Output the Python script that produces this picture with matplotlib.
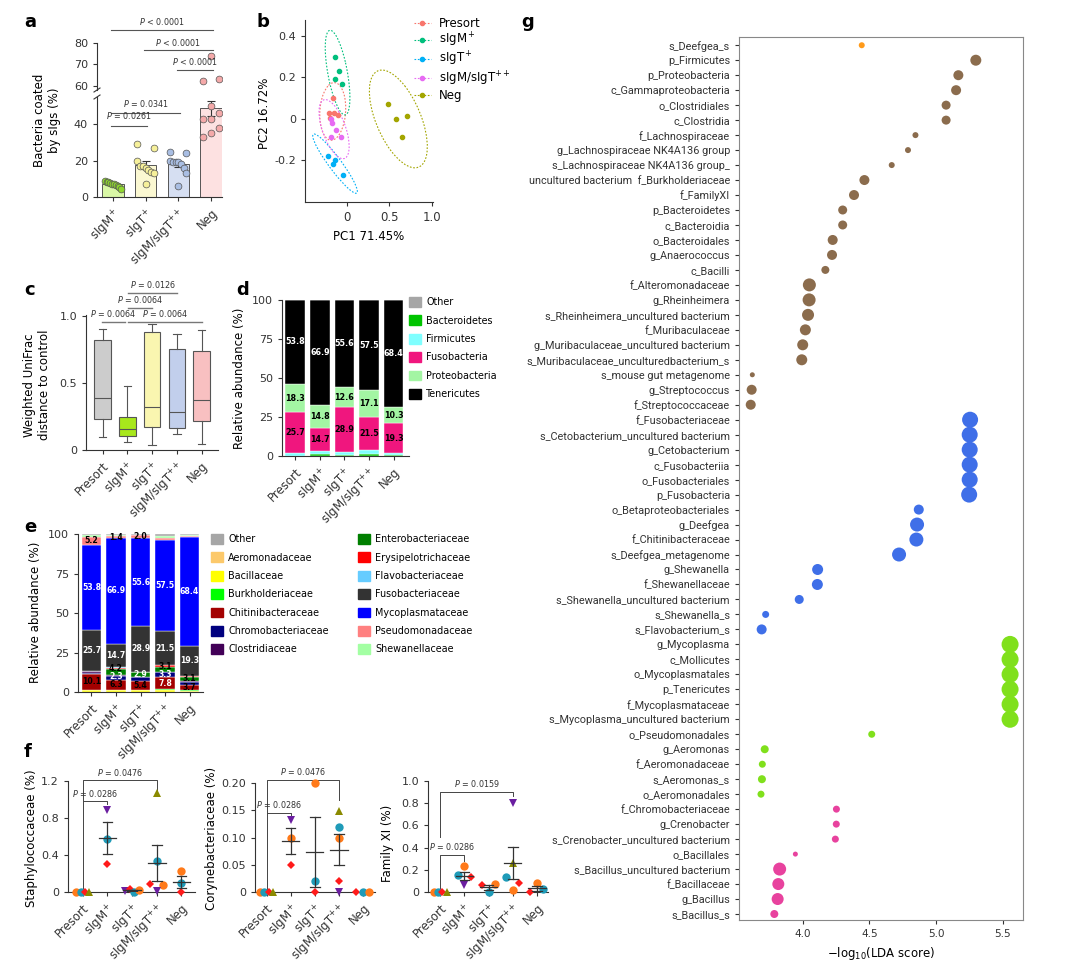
import numpy as np
import matplotlib.pyplot as plt
from matplotlib.patches import Ellipse, Patch
from matplotlib.lines import Line2D

plt.rcParams['font.family'] = ['DejaVu Sans']
plt.rcParams['mathtext.fontset'] = 'dejavusans'
plt.rcParams['axes.linewidth'] = 0.8
plt.rcParams['axes.edgecolor'] = '#333333'
plt.rcParams['xtick.major.width'] = 0.8
plt.rcParams['ytick.major.width'] = 0.8
plt.rcParams['xtick.major.size'] = 3
plt.rcParams['ytick.major.size'] = 3
plt.rcParams['xtick.labelsize'] = 8.5
plt.rcParams['ytick.labelsize'] = 8
plt.rcParams['xtick.color'] = '#333333'
plt.rcParams['ytick.color'] = '#333333'

W, H = 1080, 963

# ---------------- data ----------------
groups = ['Presort', 'sIgM$^+$', 'sIgT$^+$', 'sIgM/sIgT$^{++}$', 'Neg']

# a: bacteria coated by sIgs (%)
a_sigm = [9, 8.5, 8, 7.5, 7, 7, 6.5, 6, 5.5, 4.5]
a_sigt = [29, 27, 20, 17, 17, 16, 15, 14, 13, 7]
a_both = [24.5, 24, 20, 19.5, 19.5, 19, 18, 16, 13, 6]
a_neg = [33, 35, 38, 43, 43, 46, 50, 62, 63, 74]
a_pvals = [(0, 1, 39.3, '$P$ = 0.0261'), (0, 2, 46.3, '$P$ = 0.0341'),
           (2, 3, 67.4, '$P$ < 0.0001'), (1, 3, 76.6, '$P$ < 0.0001'),
           (0, 3, 86.2, '$P$ < 0.0001')]

# b: PCoA
b_presort_x = [-0.158, -0.208, -0.15, -0.103, -0.2]
b_presort_y = [0.103, 0.03, 0.027, 0.02, 0.003]
b_sigm_x = [-0.14, -0.09, -0.14, -0.058]
b_sigm_y = [0.30, 0.23, 0.194, 0.17]
b_sigt_x = [-0.215, -0.133, -0.158, -0.04]
b_sigt_y = [-0.178, -0.197, -0.216, -0.27]
b_both_x = [-0.19, -0.17, -0.13, -0.18, -0.07]
b_both_y = [0.0, -0.018, -0.053, -0.087, -0.087]
b_neg_x = [0.49, 0.58, 0.71, 0.65]
b_neg_y = [0.071, 0.002, 0.015, -0.087]

# c: weighted UniFrac distance (box stats)
c_whislo = [0.10, 0.0625, 0.0375, 0.12, 0.045]
c_q1 = [0.23, 0.1075, 0.175, 0.165, 0.2175]
c_med = [0.3875, 0.1575, 0.325, 0.2875, 0.375]
c_q3 = [0.825, 0.245, 0.8825, 0.755, 0.7375]
c_whishi = [0.905, 0.4825, 0.9425, 0.8675, 0.8975]
c_pvals = [(0, 1, 0.958, '$P$ = 0.0064'), (1, 4, 0.958, '$P$ = 0.0064'),
           (1, 2, 1.063, '$P$ = 0.0064'), (1, 3, 1.175, '$P$ = 0.0126')]

# d: phylum relative abundance (%)
d_bacteroidetes = [0.3, 1.0, 0.5, 1.0, 0.5]
d_firmicutes = [1.9, 2.5, 2.1, 2.6, 1.2]
d_fusobacteria = [25.7, 14.7, 28.9, 21.5, 19.3]
d_proteobacteria = [18.3, 14.8, 12.6, 17.1, 10.3]
d_tenericutes = [53.8, 66.9, 55.6, 57.5, 68.4]
d_other = [0.0, 0.1, 0.3, 0.3, 0.3]

# e: family relative abundance (%)
e_aeromonadaceae = [0.2, 0.3, 0.2, 0.3, 0.2]
e_bacillaceae = [1.0, 0.8, 1.0, 0.8, 0.5]
e_burkholderiaceae = [0.2, 0.3, 0.3, 0.5, 0.3]
e_chitinibacteraceae = [10.1, 6.3, 5.4, 7.8, 3.7]
e_chromobacteriaceae = [0.3, 2.3, 2.4, 3.3, 1.8]
e_clostridiaceae = [1.6, 0.5, 0.2, 0.2, 0.2]
e_enterobacteriaceae = [0.1, 4.2, 2.9, 3.1, 3.1]
e_erysipelotrichaceae = [0.0, 0.3, 0.1, 0.8, 0.1]
e_flavobacteriaceae = [0.0, 0.8, 0.3, 0.2, 0.2]
e_fusobacteriaceae = [25.7, 14.7, 28.9, 21.5, 19.3]
e_mycoplasmataceae = [53.8, 66.9, 55.6, 57.5, 68.4]
e_pseudomonadaceae = [5.2, 1.4, 2.0, 1.2, 1.2]
e_shewanellaceae = [1.0, 0.5, 0.2, 1.8, 0.3]
e_other = [0.8, 0.7, 0.5, 1.0, 0.7]
e_labelled = {'Chitinibacteraceae': [0, 1, 2, 3, 4], 'Chromobacteriaceae': [1, 3],
              'Enterobacteriaceae': [1, 2, 3, 4], 'Fusobacteriaceae': [0, 1, 2, 3, 4],
              'Mycoplasmataceae': [0, 1, 2, 3, 4], 'Pseudomonadaceae': [0, 1, 2]}

# f: genus-level abundance, points per group (marker kind codes)
f1_vals = [[0, 0, 0, 0], [0.89, 0.57, 0.30], [0.01, 0.035, 0.0, 0.02],
           [1.07, 0.335, 0.083, 0.072, 0.01], [0.227, 0.10, 0.0]]
f1_kind = [['o', 't', 'r', 'l'], ['p', 't', 'r'], ['p', 'r', 't', 'o'],
           ['l', 't', 'r', 'o', 'p'], ['o', 't', 'r']]
f1_pvals = [(0, 1, 0.98, 0.035, 0.95, '$P$ = 0.0286'), (0, 3, 1.207, 0.98, 1.106, '$P$ = 0.0476')]

f2_vals = [[0, 0, 0, 0], [0.1315, 0.0997, 0.05], [0.2, 0.0196, 0.0],
           [0.149, 0.12, 0.0997, 0.0196, 0.0], [0, 0, 0]]
f2_kind = [['o', 't', 'r', 'l'], ['p', 'o', 'r'], ['o', 't', 'r'],
           ['l', 't', 'o', 'r', 'p'], ['r', 't', 'o']]
f2_pvals = [(0, 1, 0.145, 0.004, 0.1376, '$P$ = 0.0286'), (0, 3, 0.206, 0.145, 0.169, '$P$ = 0.0476')]

f3_vals = [[0, 0, 0, 0], [0.15, 0.232, 0.06, 0.1325], [0.066, 0.0, 0.069],
           [0.804, 0.262, 0.1325, 0.021, 0.081], [0.0, 0.08, 0.024]]
f3_kind = [['o', 't', 'r', 'l'], ['t', 'o', 'p', 'r'], ['r', 't', 'o'],
           ['p', 'l', 't', 'o', 'r'], ['r', 'o', 't']]
f3_pvals = [(0, 1, 0.331, 0.015, 0.277, '$P$ = 0.0286'), (0, 3, 0.904, 0.5, 0.867, '$P$ = 0.0159')]

# g: LEfSe
g_labels = ['s_Deefgea_s', 'p_Firmicutes', 'p_Proteobacteria', 'c_Gammaproteobacteria',
            'o_Clostridiales', 'c_Clostridia', 'f_Lachnospiraceae',
            'g_Lachnospiraceae NK4A136 group', 's_Lachnospiraceae NK4A136 group_',
            'uncultured bacterium  f_Burkholderiaceae', 'f_FamilyXI', 'p_Bacteroidetes',
            'c_Bacteroidia', 'o_Bacteroidales', 'g_Anaerococcus', 'c_Bacilli',
            'f_Alteromonadaceae', 'g_Rheinheimera', 's_Rheinheimera_uncultured bacterium',
            'f_Muribaculaceae', 'g_Muribaculaceae_uncultured bacterium',
            's_Muribaculaceae_unculturedbacterium_s', 's_mouse gut metagenome',
            'g_Streptococcus', 'f_Streptococcaceae', 'f_Fusobacteriaceae',
            's_Cetobacterium_uncultured bacterium', 'g_Cetobacterium', 'c_Fusobacteriia',
            'o_Fusobacteriales', 'p_Fusobacteria', 'o_Betaproteobacteriales', 'g_Deefgea',
            'f_Chitinibacteraceae', 's_Deefgea_metagenome', 'g_Shewanella',
            'f_Shewanellaceae', 's_Shewanella_uncultured bacterium', 's_Shewanella_s',
            's_Flavobacterium_s', 'g_Mycoplasma', 'c_Mollicutes', 'o_Mycoplasmatales',
            'p_Tenericutes', 'f_Mycoplasmataceae', 's_Mycoplasma_uncultured bacterium',
            'o_Pseudomonadales', 'g_Aeromonas', 'f_Aeromonadaceae', 's_Aeromonas_s',
            'o_Aeromonadales', 'f_Chromobacteriaceae', 'g_Crenobacter',
            's_Crenobacter_uncultured bacterium', 'o_Bacillales',
            's_Bacillus_uncultured bacterium', 'f_Bacillaceae', 'g_Bacillus', 's_Bacillus_s']
g_lda = [4.443, 5.299, 5.168, 5.151, 5.076, 5.076, 4.846, 4.790, 4.668, 4.463,
         4.385, 4.300, 4.300, 4.225, 4.220, 4.170, 4.050, 4.048, 4.040, 4.020,
         4.000, 3.993, 3.622, 3.617, 3.610, 5.256, 5.253, 5.253, 5.253, 5.253,
         5.249, 4.871, 4.858, 4.853, 4.723, 4.112, 4.110, 3.974, 3.722, 3.692,
         5.556, 5.556, 5.556, 5.556, 5.556, 5.556, 4.518, 3.715, 3.697, 3.694,
         3.687, 4.253, 4.252, 4.245, 3.945, 3.827, 3.817, 3.812, 3.787]
g_size = [6, 11, 10, 10, 9, 9, 6, 6, 6, 10, 10, 9, 9, 10, 10, 8, 13, 13, 12, 11,
          11, 11, 5, 10, 10, 16, 16, 16, 16, 16, 16, 10, 14, 14, 14, 11, 11, 9, 7, 10,
          17, 17, 17, 17, 17, 17, 7, 8, 7, 8, 7, 7, 7, 7, 5, 13, 12, 12, 8]
g_block_sizes = [1, 24, 15, 11, 8]
g_block_colors = ['#ff9a1a', '#8b6c4d', '#3f6fe8', '#80e01c', '#e8429e']


# ---------------- helpers ----------------
def px_axes(x0, y0, x1, y1):
    return fig.add_axes([x0 / W, 1 - y1 / H, (x1 - x0) / W, (y1 - y0) / H])


def fig_text(x, y, s, **kw):
    fig.text(x / W, 1 - y / H, s, **kw)


def spread(vals, thr, w=0.27):
    vals = np.asarray(vals, float)
    order = np.argsort(vals, kind='stable')
    offs = np.zeros(len(vals))
    clusters = [[order[0]]]
    for i0, i1 in zip(order[:-1], order[1:]):
        if vals[i1] - vals[i0] < thr:
            clusters[-1].append(i1)
        else:
            clusters.append([i1])
    for c in clusters:
        if len(c) > 1:
            c = sorted(c)
            offs[c] = np.linspace(-w, w, len(c))
    return offs


def cat_xticks(ax, labels, positions):
    ax.set_xticks(positions)
    ax.set_xticklabels(labels, rotation=45, ha='right', rotation_mode='anchor')


def clean(ax):
    ax.spines['top'].set_visible(False)
    ax.spines['right'].set_visible(False)


fig = plt.figure(figsize=(W / 100, H / 100), dpi=100)

# ---------------- a ----------------
a_vals = [a_sigm, a_sigt, a_both, a_neg]
a_fill = ['#d9f7a6', '#fbf8d2', '#d6dff2', '#fde1e1']
a_dot = ['#8fd62e', '#f6f09a', '#a9bee3', '#f4a9a9']
axa = px_axes(97, 97, 222, 197)
axa_hi = px_axes(97, 43, 222, 90)
for i, v in enumerate(a_vals):
    v = np.array(v, float)
    m = v.mean()
    se = v.std(ddof=1) / np.sqrt(len(v))
    axa.bar(i, m, 0.65, color=a_fill[i], edgecolor='#555555', lw=0.7, zorder=1)
    axa.errorbar(i, m, yerr=se, color='#333333', capsize=3, lw=0.8, capthick=0.8, zorder=2)
    offs = spread(v, 3.5, 0.25)
    for ax in (axa, axa_hi):
        ax.scatter(i + offs, v, s=24, color=a_dot[i], edgecolors='#555555',
                   linewidths=0.5, zorder=3)
for ax in (axa, axa_hi):
    ax.set_xlim(-0.49, 3.34)
    clean(ax)
axa.set_ylim(0, 55)
axa.set_yticks([0, 20, 40])
axa.set_yticklabels(['0', '20', '40'])
cat_xticks(axa, groups[1:], range(4))
axa_hi.set_ylim(58, 80)
axa_hi.set_yticks([60, 70, 80])
axa_hi.spines['bottom'].set_visible(False)
axa_hi.set_xticks([])
for y0 in (90, 97):
    fig.add_artist(Line2D([94 / W, 100 / W], [1 - (y0 + 2) / H, 1 - (y0 - 2) / H],
                          color='#333333', lw=0.8))
for i, j, y, s in a_pvals:
    ax = axa if y < 55 else axa_hi
    ax.plot([i - 0.05, j + 0.05], [y, y], color='#555555', lw=0.8, clip_on=False)
    dy = 2.3 if y < 55 else 1.2
    ax.text((i + j) / 2, y + dy, s, ha='center', va='bottom', fontsize=5.8,
            color='#333333', clip_on=False)
fig_text(47, 120, 'Bacteria coated\nby sIgs (%)', rotation=90, ha='center', va='center',
         fontsize=8.5, linespacing=1.2)

# ---------------- b ----------------
b_sets = [(b_presort_x, b_presort_y), (b_sigm_x, b_sigm_y), (b_sigt_x, b_sigt_y),
          (b_both_x, b_both_y), (b_neg_x, b_neg_y)]
b_cols = ['#F8766D', '#00BF7D', '#00B0F6', '#E76BF3', '#A3A500']
axb = px_axes(305, 20, 433, 202)
for (x, y), col in zip(b_sets, b_cols):
    x = np.array(x)
    y = np.array(y)
    axb.scatter(x, y, s=9, color=col, zorder=3)
    cov = np.cov(x, y)
    vals, vecs = np.linalg.eigh(cov)
    ang = np.degrees(np.arctan2(vecs[1, 1], vecs[0, 1]))
    k = 3.6
    axb.add_patch(Ellipse((x.mean(), y.mean()), 2 * k * np.sqrt(vals[1]), 2 * k * np.sqrt(vals[0]),
                          angle=ang, fill=False, ls=(0, (1.5, 1.5)), lw=0.8, color=col))
axb.set_xlim(-0.49, 1.015)
axb.set_ylim(-0.4, 0.477)
axb.set_xticks([0, 0.5, 1.0])
axb.set_xticklabels(['0', '0.5', '1.0'])
axb.set_yticks([-0.2, 0, 0.2, 0.4])
axb.set_yticklabels(['-0.2', '0', '0.2', '0.4'])
clean(axb)
fig_text(369, 236, 'PC1 71.45%', ha='center', va='center', fontsize=8.5)
fig_text(264, 113, 'PC2 16.72%', rotation=90, ha='center', va='center', fontsize=8.5)
b_handles = [Line2D([], [], color=c, ls=(0, (1.5, 1.5)), lw=0.8, marker='o', ms=3)
             for c in b_cols]
fig.legend(b_handles, groups, loc='upper left', bbox_to_anchor=(414 / W, 1 - 17 / H),
           frameon=False, fontsize=8.5, handlelength=1.4, handletextpad=0.7,
           labelspacing=0.08, borderpad=0, borderaxespad=0)

# ---------------- c ----------------
c_fill = ['#cccccc', '#a8e81c', '#faf6b0', '#c2cfec', '#f8c0c1']
axc = px_axes(86, 315, 218, 450)
stats = [dict(whislo=c_whislo[i], q1=c_q1[i], med=c_med[i], q3=c_q3[i],
              whishi=c_whishi[i], fliers=[]) for i in range(5)]
bp = axc.bxp(stats, positions=range(5), widths=0.67, capwidths=0.3, patch_artist=True,
             boxprops=dict(edgecolor='#555555', lw=0.8),
             medianprops=dict(color='#555555', lw=0.8),
             whiskerprops=dict(color='#555555', lw=0.8),
             capprops=dict(color='#555555', lw=0.8))
for patch, col in zip(bp['boxes'], c_fill):
    patch.set_facecolor(col)
axc.set_xlim(-0.67, 4.66)
axc.set_ylim(0, 1.01)
axc.set_yticks([0, 0.5, 1.0])
axc.set_yticklabels(['0', '0.5', '1.0'])
cat_xticks(axc, groups, range(5))
clean(axc)
for i, j, y, s in c_pvals:
    x0 = i - 0.04 if i == 0 else i + 0.04
    x1 = j - 0.1 if j == 1 else j
    axc.plot([x0, x1], [y, y], color='#777777', lw=1.0, clip_on=False)
    axc.text((x0 + x1) / 2, y + 0.025, s, ha='center', va='bottom', fontsize=5.8,
             color='#333333', clip_on=False)
fig_text(37, 385, 'Weighted UniFrac\ndistance to control', rotation=90, ha='center',
         va='center', fontsize=8.5, linespacing=1.2)

# ---------------- d ----------------
d_series = [('Bacteroidetes', d_bacteroidetes, '#00c400'), ('Firmicutes', d_firmicutes, '#7fffff'),
            ('Fusobacteria', d_fusobacteria, '#f0167e'),
            ('Proteobacteria', d_proteobacteria, '#a3f5a3'),
            ('Tenericutes', d_tenericutes, '#000000'), ('Other', d_other, '#a6a6a6')]
d_textcol = {'Fusobacteria': 'black', 'Proteobacteria': 'black', 'Tenericutes': 'white'}
axd = px_axes(282, 300, 409, 456)
bottom = np.zeros(5)
for name, v, col in d_series:
    v = np.array(v, float)
    axd.bar(range(5), v, 0.8, bottom=bottom, color=col, edgecolor='white', lw=0.3)
    if name in d_textcol:
        for i in range(5):
            axd.text(i, bottom[i] + v[i] / 2, f'{v[i]:.1f}', ha='center', va='center',
                     fontsize=5.8, fontweight='bold', color=d_textcol[name])
    bottom += v
axd.set_xlim(-0.54, 4.63)
axd.set_ylim(0, 100)
axd.set_yticks([0, 25, 50, 75, 100])
cat_xticks(axd, groups, range(5))
clean(axd)
fig_text(240, 378, 'Relative abundance (%)', rotation=90, ha='center', va='center', fontsize=8.5)
d_order = [d_series[-1]] + d_series[:-1]
fig.legend([Patch(color=c) for _, _, c in d_order], [n for n, _, _ in d_order],
           loc='upper left', bbox_to_anchor=(409 / W, 1 - 297 / H), frameon=False,
           fontsize=6.9, handlelength=1.2, handleheight=1.2, handletextpad=0.6,
           labelspacing=0.86, borderpad=0, borderaxespad=0)

# ---------------- e ----------------
e_series = [('Aeromonadaceae', e_aeromonadaceae, '#fcc96b'),
            ('Bacillaceae', e_bacillaceae, '#ffff00'),
            ('Burkholderiaceae', e_burkholderiaceae, '#00ff00'),
            ('Chitinibacteraceae', e_chitinibacteraceae, '#a30000'),
            ('Chromobacteriaceae', e_chromobacteriaceae, '#00007f'),
            ('Clostridiaceae', e_clostridiaceae, '#420057'),
            ('Enterobacteriaceae', e_enterobacteriaceae, '#007f00'),
            ('Erysipelotrichaceae', e_erysipelotrichaceae, '#ff0000'),
            ('Flavobacteriaceae', e_flavobacteriaceae, '#66ccff'),
            ('Fusobacteriaceae', e_fusobacteriaceae, '#333333'),
            ('Mycoplasmataceae', e_mycoplasmataceae, '#0000ff'),
            ('Pseudomonadaceae', e_pseudomonadaceae, '#ff8080'),
            ('Shewanellaceae', e_shewanellaceae, '#a3ffa3'),
            ('Other', e_other, '#a6a6a6')]
e_textcol = {'Chitinibacteraceae': 'black', 'Chromobacteriaceae': 'white',
             'Enterobacteriaceae': 'black', 'Fusobacteriaceae': 'white',
             'Mycoplasmataceae': 'white', 'Pseudomonadaceae': 'black'}
e_textcol_override = {('Enterobacteriaceae', 2): 'white', ('Chitinibacteraceae', 3): 'white'}
axe = px_axes(78, 534, 203, 692)
bottom = np.zeros(5)
e_text = [[] for _ in range(5)]
for name, v, col in e_series:
    v = np.array(v, float)
    axe.bar(range(5), v, 0.79, bottom=bottom, color=col, edgecolor='white', lw=0.3)
    for i in e_labelled.get(name, []):
        tc = e_textcol_override.get((name, i), e_textcol[name])
        e_text[i].append([bottom[i] + v[i] / 2, f'{v[i]:.1f}', tc])
    bottom += v
# push stacked labels apart so small segments stay readable
for i, items in enumerate(e_text):
    prev = -10
    for it in items:
        it[0] = max(it[0], prev + 5.2)
        prev = it[0]
        axe.text(i, it[0], it[1], ha='center', va='center', fontsize=5.6,
                 fontweight='bold', color=it[2])
axe.set_xlim(-0.55, 4.55)
axe.set_ylim(0, 100)
axe.set_yticks([0, 25, 50, 75, 100])
cat_xticks(axe, groups, range(5))
clean(axe)
fig_text(36, 612, 'Relative abundance (%)', rotation=90, ha='center', va='center', fontsize=8.5)
e_order = [e_series[-1]] + e_series[:-1]
for k, x0 in ((0, 211), (1, 358)):
    part = e_order[7 * k:7 * k + 7]
    fig.legend([Patch(color=c) for _, _, c in part], [n for n, _, _ in part],
               loc='upper left', bbox_to_anchor=(x0 / W, 1 - 534 / H), frameon=False,
               fontsize=6.9, handlelength=1.2, handleheight=1.2, handletextpad=0.6,
               labelspacing=0.86, borderpad=0, borderaxespad=0)

# ---------------- f ----------------
f_markers = {'o': ('o', '#ff7a1a', 6), 't': ('o', '#1f9bb8', 6), 'r': ('D', '#ff1a1a', 4.2),
             'p': ('v', '#6a1ea0', 6), 'l': ('^', '#8a8a00', 6)}


def draw_f(ax, vals, kinds, thr, pvals):
    for i, (v, kk) in enumerate(zip(vals, kinds)):
        v = np.array(v, float)
        offs = spread(v, thr, 0.27)
        for x, y, k in zip(i + offs, v, kk):
            m, c, ms = f_markers[k]
            ax.plot(x, y, marker=m, color=c, ms=ms, ls='none', mew=0, clip_on=False, zorder=3)
        m = v.mean()
        if m > 0:
            se = v.std(ddof=1) / np.sqrt(len(v))
            ax.plot([i - 0.36, i + 0.36], [m, m], color='#333333', lw=0.9, zorder=4)
            ax.plot([i, i], [m - se, m + se], color='#333333', lw=0.9, zorder=4)
            for yy in (m - se, m + se):
                ax.plot([i - 0.2, i + 0.2], [yy, yy], color='#333333', lw=0.9, zorder=4)
    for i, j, y, yl, yr, s in pvals:
        ax.plot([i, i, j, j], [yl, y, y, yr], color='#444444', lw=0.7, clip_on=False, zorder=2)
        ax.text((i + j) / 2, y + (ax.get_ylim()[1]) * 0.025, s, ha='center', va='bottom',
                fontsize=5.8, color='#333333', clip_on=False)
    cat_xticks(ax, groups, range(5))
    clean(ax)


axf1 = px_axes(68, 781, 195, 892)
axf1.set_xlim(-0.6, 4.55)
axf1.set_ylim(0, 1.2)
axf1.set_yticks([0, 0.4, 0.8, 1.2])
axf1.set_yticklabels(['0', '0.4', '0.8', '1.2'])
draw_f(axf1, f1_vals, f1_kind, 0.054, f1_pvals)
fig_text(32, 838, 'Staphylococcaceae (%)', rotation=90, ha='center', va='center', fontsize=8.5)

axf2 = px_axes(255, 783, 375, 892)
axf2.set_xlim(-0.48, 4.5)
axf2.set_ylim(0, 0.2)
axf2.set_yticks([0, 0.05, 0.10, 0.15, 0.20])
axf2.set_yticklabels(['0', '0.05', '0.10', '0.15', '0.20'])
draw_f(axf2, f2_vals, f2_kind, 0.0092, f2_pvals)
fig_text(212, 838, 'Corynebacteriaceae (%)', rotation=90, ha='center', va='center', fontsize=8.5)

axf3 = px_axes(428, 781, 548, 892)
axf3.set_xlim(-0.51, 4.46)
axf3.set_ylim(0, 1.0)
axf3.set_yticks([0, 0.2, 0.4, 0.6, 0.8, 1.0])
axf3.set_yticklabels(['0', '0.2', '0.4', '0.6', '0.8', '1.0'])
draw_f(axf3, f3_vals, f3_kind, 0.058, f3_pvals)
fig_text(388, 843, 'Family XI (%)', rotation=90, ha='center', va='center', fontsize=8.5)

# ---------------- g ----------------
axg = px_axes(739, 37, 1023, 920)
yy = np.arange(len(g_labels))
g_cols = np.repeat(g_block_colors, g_block_sizes)
axg.scatter(g_lda, yy, s=(np.array(g_size) * 0.72) ** 2, c=g_cols, edgecolors='none', zorder=3)
axg.set_ylim(58.4, -0.55)
axg.set_yticks(yy)
axg.set_yticklabels(g_labels, fontsize=7.8, family='Roboto')
axg.set_xlim(3.522, 5.653)
axg.set_xticks([4.0, 4.5, 5.0, 5.5])
axg.tick_params(axis='x', labelsize=7.5)
for sp in axg.spines.values():
    sp.set_color('#888888')
axg.set_xlabel('\u2212log$_{10}$(LDA score)', fontsize=8.5)

# panel letters
for s, x, y in (('a', 24, 22), ('b', 257, 22), ('c', 24, 290), ('d', 236, 290),
                ('e', 24, 527), ('f', 24, 752), ('g', 521, 22)):
    fig_text(x, y, s, fontsize=13, fontweight='bold', ha='left', va='center')

fig.savefig('out.png', dpi=100)
